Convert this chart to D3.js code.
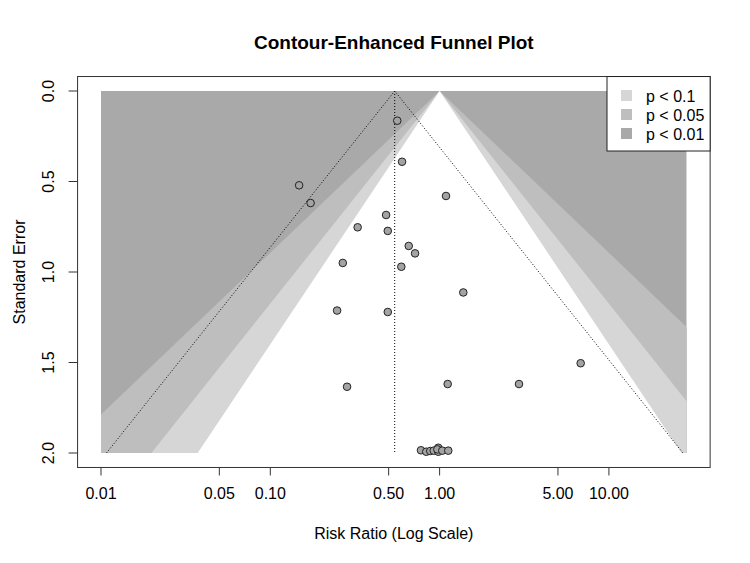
<!DOCTYPE html>
<html>
<head>
<meta charset="utf-8">
<script src="https://cdn.jsdelivr.net/npm/d3@7"></script>
<style>
  body { margin: 0; background: #fff; }
  svg { display: block; font-family: "Liberation Sans", Arial, sans-serif; }
</style>
</head>
<body>
<svg id="plot" width="750" height="563"></svg>
<script>
// Study estimates (risk ratio, standard error)
const riskRatios = [0.562, 0.148, 0.173, 0.600, 1.091, 0.483, 0.328, 0.494, 0.657, 0.716,
  0.594, 0.268, 1.380, 0.248, 0.494, 0.284, 1.116, 2.944, 6.81,
  0.776, 0.834, 0.881, 0.923, 0.982, 0.982, 0.970, 1.037, 1.125];
const standardErrors = [0.164, 0.521, 0.619, 0.391, 0.580, 0.685, 0.753, 0.773, 0.856, 0.897,
  0.971, 0.950, 1.113, 1.213, 1.221, 1.634, 1.619, 1.619, 1.504,
  1.985, 1.993, 1.989, 1.987, 1.971, 1.993, 1.980, 1.987, 1.987];

const estimate = 0.543;           // pooled RR (dotted funnel centre)
const xLimits = [0.01, 28.8];
const seMax = 2.0;
const xTicks = [0.01, 0.05, 0.10, 0.50, 1.00, 5.00, 10.00];
const yTicks = [0, 0.5, 1.0, 1.5, 2.0];

const contourLevels = [0.99, 0.95, 0.90];
const contourZ = [2.576, 1.960, 1.645];
const legendLabels = ['p < 0.1', 'p < 0.05', 'p < 0.01'];
const shades = { dark: '#a9a9a9', mid: '#bebebe', light: '#d6d6d6' };

const svg = d3.select('#plot');

const xScale = d3.scaleLog().domain(xLimits).range([101, 686.7]);
const yScale = d3.scaleLinear().domain([0, seMax]).range([91, 453]);

// R style box: 4% padding around the data range
const xr = xScale.range(), yr = yScale.range();
const padX = (xr[1] - xr[0]) * 0.04, padY = (yr[1] - yr[0]) * 0.04;
const box = { x0: xr[0] - padX, x1: xr[1] + padX, y0: yr[0] - padY, y1: yr[1] + padY };

svg.append('defs').append('clipPath').attr('id', 'region')
  .append('rect')
  .attr('x', xr[0]).attr('y', yr[0])
  .attr('width', xr[1] - xr[0]).attr('height', yr[1] - yr[0]);

const shadeG = svg.append('g').attr('clip-path', 'url(#region)');

shadeG.append('rect')
  .attr('x', xr[0]).attr('y', yr[0])
  .attr('width', xr[1] - xr[0]).attr('height', yr[1] - yr[0])
  .attr('fill', shades.dark);

// Funnel triangle around a centre for a given z
function funnel(center, z) {
  const c = Math.log(center);
  return [
    [Math.exp(c), 0],
    [Math.exp(c - z * seMax), seMax],
    [Math.exp(c + z * seMax), seMax]
  ];
}

const line = d3.line().x(d => xScale(d[0])).y(d => yScale(d[1]));
const fills = [shades.mid, shades.light, '#fff'];

shadeG.selectAll('.contour')
  .data(contourZ)
  .join('path')
  .attr('class', 'contour')
  .attr('d', z => line(funnel(1, z)) + 'Z')
  .attr('fill', (z, i) => fills[i]);

// Dotted reference lines
const refG = svg.append('g')
  .attr('fill', 'none').attr('stroke', '#000')
  .attr('stroke-width', 1).attr('stroke-dasharray', '1,2');

refG.append('line')
  .attr('x1', xScale(estimate)).attr('x2', xScale(estimate))
  .attr('y1', yScale(0)).attr('y2', yScale(seMax));

const f = funnel(estimate, 1.96);
refG.append('path').attr('d', line([f[1], f[0], f[2]]));

// Points
svg.append('g')
  .selectAll('circle')
  .data(riskRatios.map((rr, i) => ({ rr, se: standardErrors[i] })))
  .join('circle')
  .attr('cx', d => xScale(d.rr))
  .attr('cy', d => yScale(d.se))
  .attr('r', 3.8)
  .attr('fill', '#a3a3a3')
  .attr('stroke', '#222')
  .attr('stroke-width', 1);

// Box
svg.append('rect')
  .attr('x', box.x0).attr('y', box.y0)
  .attr('width', box.x1 - box.x0).attr('height', box.y1 - box.y0)
  .attr('fill', 'none').attr('stroke', '#333').attr('stroke-width', 1);

// X axis
const xAxis = svg.append('g').attr('transform', `translate(0,${box.y1})`);
xAxis.selectAll('line')
  .data(xTicks).join('line')
  .attr('x1', d => xScale(d)).attr('x2', d => xScale(d))
  .attr('y1', 0).attr('y2', 8)
  .attr('stroke', '#333');
xAxis.selectAll('text')
  .data(xTicks).join('text')
  .attr('x', d => xScale(d)).attr('y', 32)
  .attr('text-anchor', 'middle')
  .attr('font-size', 16)
  .text(d => d.toFixed(2));

// Y axis
const yAxis = svg.append('g').attr('transform', `translate(${box.x0},0)`);
yAxis.selectAll('line')
  .data(yTicks).join('line')
  .attr('x1', -9).attr('x2', 0)
  .attr('y1', d => yScale(d)).attr('y2', d => yScale(d))
  .attr('stroke', '#333');
yAxis.selectAll('text')
  .data(yTicks).join('text')
  .attr('transform', d => `translate(-24,${yScale(d)}) rotate(-90)`)
  .attr('text-anchor', 'middle')
  .attr('font-size', 16)
  .text(d => d.toFixed(1));

// Titles
svg.append('text')
  .attr('x', (box.x0 + box.x1) / 2).attr('y', 49)
  .attr('text-anchor', 'middle')
  .attr('font-size', 19).attr('font-weight', 'bold')
  .text('Contour-Enhanced Funnel Plot');

svg.append('text')
  .attr('x', (box.x0 + box.x1) / 2).attr('y', 539)
  .attr('text-anchor', 'middle')
  .attr('font-size', 16)
  .text('Risk Ratio (Log Scale)');

svg.append('text')
  .attr('transform', `translate(25,${(box.y0 + box.y1) / 2}) rotate(-90)`)
  .attr('text-anchor', 'middle')
  .attr('font-size', 16)
  .text('Standard Error');

// Legend
const legend = svg.append('g');
legend.append('rect')
  .attr('x', 607).attr('y', box.y0)
  .attr('width', box.x1 - 607).attr('height', 151 - box.y0)
  .attr('fill', '#fff').attr('stroke', '#222');

const legendFills = [shades.light, shades.mid, shades.dark];
legendLabels.forEach((label, i) => {
  const cy = 95.5 + i * 19;
  legend.append('rect')
    .attr('x', 621).attr('y', cy - 5.5)
    .attr('width', 11).attr('height', 11)
    .attr('fill', legendFills[i]);
  legend.append('text')
    .attr('x', 646).attr('y', cy + 6)
    .attr('font-size', 16)
    .text(label);
});
</script>
</body>
</html>
